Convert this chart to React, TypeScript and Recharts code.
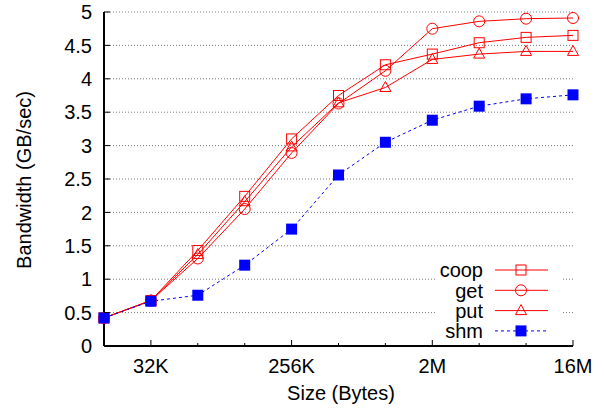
import { CartesianGrid, Line, LineChart, XAxis, YAxis } from "recharts";

const sizes = ["16K", "32K", "64K", "128K", "256K", "512K", "1M", "2M", "4M", "8M", "16M"];
const majorSizes = ["32K", "256K", "2M", "16M"];
const yTicks = [0, 0.5, 1, 1.5, 2, 2.5, 3, 3.5, 4, 4.5, 5];

const coop = [0.42, 0.68, 1.43, 2.24, 3.1, 3.75, 4.21, 4.37, 4.54, 4.62, 4.65];
const get = [0.42, 0.68, 1.31, 2.05, 2.89, 3.63, 4.12, 4.75, 4.86, 4.9, 4.91];
const put = [0.42, 0.68, 1.37, 2.16, 2.98, 3.64, 3.87, 4.29, 4.37, 4.41, 4.41];
const shm = [0.42, 0.67, 0.76, 1.21, 1.75, 2.56, 3.05, 3.38, 3.59, 3.7, 3.76];

const data = sizes.map((size, i) => ({
  size,
  coop: coop[i],
  get: get[i],
  put: put[i],
  shm: shm[i],
}));

const FONT = "'Liberation Sans', Arial, Helvetica, sans-serif";
const FS = 20;
const RED = "#ff0000";
const BLUE = "#0000ff";

type Marker = "square" | "circle" | "triangle" | "filled";

function drawMarker(kind: Marker, cx: number, cy: number, key?: string | number) {
  if (kind === "square")
    return <rect key={key} x={cx - 5} y={cy - 5} width={10} height={10} fill="none" stroke={RED} strokeWidth={1} />;
  if (kind === "circle")
    return <circle key={key} cx={cx} cy={cy} r={5.5} fill="none" stroke={RED} strokeWidth={1} />;
  if (kind === "triangle")
    return (
      <polygon
        key={key}
        points={`${cx},${cy - 6} ${cx - 5.5},${cy + 4} ${cx + 5.5},${cy + 4}`}
        fill="none"
        stroke={RED}
        strokeWidth={1}
      />
    );
  return <rect key={key} x={cx - 5.5} y={cy - 5.5} width={11} height={11} fill={BLUE} stroke="none" />;
}

const series: { key: string; color: string; marker: Marker; dash?: string }[] = [
  { key: "coop", color: RED, marker: "square" },
  { key: "get", color: RED, marker: "circle" },
  { key: "put", color: RED, marker: "triangle" },
  { key: "shm", color: BLUE, marker: "filled", dash: "3 3" },
];

// gnuplot-style ticks: all drawn inward, labels only on major sizes
const BottomTick = (props: any) => {
  const { x, y, payload } = props;
  const major = majorSizes.includes(payload.value);
  return (
    <g>
      <line x1={x} x2={x} y1={y} y2={y - (major ? 6 : 3)} stroke="#000" strokeWidth={1} />
      {major && (
        <text x={x} y={y + 27} textAnchor="middle" fontSize={FS} fontFamily={FONT} fill="#000">
          {payload.value}
        </text>
      )}
    </g>
  );
};

const TopTick = (props: any) => {
  const { x, y, payload } = props;
  const major = majorSizes.includes(payload.value);
  return <line x1={x} x2={x} y1={y} y2={y + (major ? 6 : 3)} stroke="#000" strokeWidth={1} />;
};

const LeftTick = (props: any) => {
  const { x, y, payload } = props;
  return (
    <g>
      <line x1={x} x2={x + 6} y1={y} y2={y} stroke="#000" strokeWidth={1} />
      <text x={x - 12} y={y} dy="0.36em" textAnchor="end" fontSize={FS} fontFamily={FONT} fill="#000">
        {payload.value}
      </text>
    </g>
  );
};

const RightTick = (props: any) => {
  const { x, y } = props;
  return <line x1={x} x2={x - 6} y1={y} y2={y} stroke="#000" strokeWidth={1} />;
};

export default function App() {
  return (
    <div style={{ position: "absolute", left: 0, top: 0, width: 604, height: 409, background: "#fff" }}>
      <LineChart width={604} height={409} data={data} margin={{ top: 12, right: 31, bottom: 0, left: 0 }}>
        <CartesianGrid
          xAxisId="b"
          yAxisId="l"
          vertical={false}
          stroke="#777"
          strokeDasharray="1 2"
        />
        <XAxis
          xAxisId="b"
          dataKey="size"
          interval={0}
          height={63}
          tickSize={0}
          tickMargin={0}
          tickLine={false}
          axisLine={{ stroke: "#000", strokeWidth: 2 }}
          tick={<BottomTick />}
          label={() => (
            <text x={341} y={400} textAnchor="middle" fontSize={FS} fontFamily={FONT} fill="#000">
              Size (Bytes)
            </text>
          )}
        />
        <XAxis
          xAxisId="t"
          dataKey="size"
          orientation="top"
          interval={0}
          height={0}
          tickSize={0}
          tickMargin={0}
          tickLine={false}
          axisLine={{ stroke: "#000", strokeWidth: 2 }}
          tick={<TopTick />}
        />
        <YAxis
          yAxisId="l"
          domain={[0, 5]}
          ticks={yTicks}
          width={104}
          tickSize={0}
          tickMargin={0}
          tickLine={false}
          axisLine={{ stroke: "#000", strokeWidth: 2 }}
          tick={<LeftTick />}
          label={(p: any) => {
            const vb = p.viewBox;
            const cx = 31;
            const cy = vb.y + vb.height / 2 + 1;
            return (
              <text
                x={cx}
                y={cy}
                transform={`rotate(-90 ${cx} ${cy})`}
                textAnchor="middle"
                fontSize={FS}
                fontFamily={FONT}
                fill="#000"
              >
                Bandwidth (GB/sec)
              </text>
            );
          }}
        />
        <YAxis
          yAxisId="r"
          orientation="right"
          domain={[0, 5]}
          ticks={yTicks}
          width={0}
          tickSize={0}
          tickMargin={0}
          tickLine={false}
          axisLine={{ stroke: "#000", strokeWidth: 2 }}
          tick={<RightTick />}
        />
        {series.map((s) => (
          <Line
            key={s.key}
            xAxisId="b"
            yAxisId="l"
            type="linear"
            dataKey={s.key}
            stroke={s.color}
            strokeWidth={1}
            strokeDasharray={s.dash}
            dot={(p: any) => drawMarker(s.marker, p.cx, p.cy, `${s.key}-${p.index}`)}
            activeDot={false}
            isAnimationActive={false}
          />
        ))}
      </LineChart>
      <svg width={604} height={409} style={{ position: "absolute", left: 0, top: 0, pointerEvents: "none" }}>
        <rect x={435} y={259} width={127} height={82} fill="#fff" />
        {series.map((s, i) => {
          const y = 270 + i * 20.3;
          return (
            <g key={s.key}>
              <text x={483} y={y} dy="0.36em" textAnchor="end" fontSize={FS} fontFamily={FONT} fill="#000">
                {s.key}
              </text>
              <line x1={495} x2={548} y1={y} y2={y} stroke={s.color} strokeWidth={1} strokeDasharray={s.dash} />
              {drawMarker(s.marker, 521, y)}
            </g>
          );
        })}
      </svg>
    </div>
  );
}
